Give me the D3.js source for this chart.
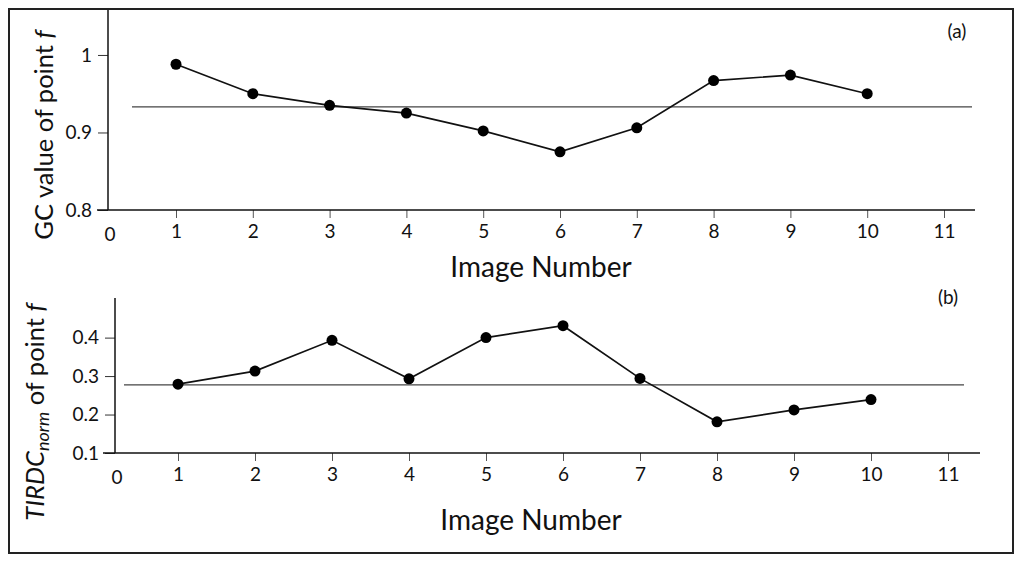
<!DOCTYPE html>
<html>
<head>
<meta charset="utf-8">
<script src="https://cdnjs.cloudflare.com/ajax/libs/d3/7.8.5/d3.min.js"></script>
<style>
  body { margin: 0; background: #fff; }
  text { font-family: Lato, "Open Sans", sans-serif; fill: #111; }
</style>
</head>
<body>
<script>
// Data
let imageNumbers = [1, 2, 3, 4, 5, 6, 7, 8, 9, 10];
let xTicks = [1, 2, 3, 4, 5, 6, 7, 8, 9, 10, 11];

let gcValues = [0.988, 0.950, 0.935, 0.925, 0.902, 0.875, 0.906, 0.967, 0.974, 0.950];
let gcMean = 0.933;
let gcTicks = [0.8, 0.9, 1];

let tirdcValues = [0.279, 0.313, 0.393, 0.293, 0.400, 0.431, 0.294, 0.181, 0.212, 0.239];
let tirdcMean = 0.277;
let tirdcTicks = [0.1, 0.2, 0.3, 0.4];

let width = 1024, height = 562;

let svg = d3.select("body").append("svg")
  .attr("width", width)
  .attr("height", height);

// outer frame
svg.append("rect")
  .attr("x", 9).attr("y", 9)
  .attr("width", 1004).attr("height", 544)
  .attr("fill", "none")
  .attr("stroke", "#222")
  .attr("stroke-width", 2);

let panels = [
  {
    values: gcValues, mean: gcMean, ticks: gcTicks, yDomain: [0.8, 1.058],
    tickFormat: d => d === 1 ? "1" : d3.format(".1f")(d),
    axisX: 108, axisY: 210, top: 10, axisEnd: 975, axisStart: 97,
    x1: 176, x11: 944, meanFrom: 132, meanTo: 972,
    tag: "(a)", tagX: 957, tagY: 38,
    titleY: 277, titleX: 541,
    yLabelX: 53, yLabelY: 135
  },
  {
    values: tirdcValues, mean: tirdcMean, ticks: tirdcTicks, yDomain: [0.1, 0.503],
    tickFormat: d3.format(".1f"),
    axisX: 115, axisY: 453, top: 298, axisEnd: 980, axisStart: 103,
    x1: 178, x11: 948, meanFrom: 124, meanTo: 964,
    tag: "(b)", tagX: 948, tagY: 304,
    titleY: 530, titleX: 531,
    yLabelX: 44, yLabelY: 412
  }
];

panels.forEach(function(p, i) {
  let x = d3.scaleLinear().domain([1, 11]).range([p.x1, p.x11]);
  let y = d3.scaleLinear().domain(p.yDomain).range([p.axisY, p.top]);

  let g = svg.append("g").attr("class", "panel-" + i);

  // y axis
  let yAxis = d3.axisLeft(y)
    .tickValues(p.ticks)
    .tickFormat(p.tickFormat)
    .tickSize(10)
    .tickPadding(6);
  let ya = g.append("g")
    .attr("transform", "translate(" + p.axisX + ",0)")
    .call(yAxis);
  ya.select(".domain").remove();
  ya.selectAll(".tick line").attr("stroke", "#333");
  ya.selectAll(".tick text").attr("font-size", 19).attr("font-family", "Lato").attr("fill", "#111");
  g.append("line")
    .attr("x1", p.axisX).attr("x2", p.axisX)
    .attr("y1", p.top).attr("y2", p.axisY)
    .attr("stroke", "#111").attr("stroke-width", 1.5);

  // x axis
  let xAxis = d3.axisBottom(x)
    .tickValues(xTicks)
    .tickSize(8)
    .tickPadding(7);
  let xa = g.append("g")
    .attr("transform", "translate(0," + p.axisY + ")")
    .call(xAxis);
  xa.select(".domain").remove();
  xa.selectAll(".tick line").attr("stroke", "#555");
  xa.selectAll(".tick text").attr("font-size", 19).attr("font-family", "Lato").attr("fill", "#111");
  g.append("line")
    .attr("x1", p.axisStart).attr("x2", p.axisEnd)
    .attr("y1", p.axisY).attr("y2", p.axisY)
    .attr("stroke", "#111").attr("stroke-width", 1.5);

  // origin label
  g.append("text")
    .attr("x", p.axisX + 2)
    .attr("y", p.axisY + 31)
    .attr("text-anchor", "middle")
    .attr("font-size", 19)
    .text("0");

  // mean line
  g.append("line")
    .attr("x1", p.meanFrom).attr("x2", p.meanTo)
    .attr("y1", y(p.mean)).attr("y2", y(p.mean))
    .attr("stroke", "#444").attr("stroke-width", 1.2);

  // series
  let line = d3.line()
    .x((d, j) => x(imageNumbers[j]))
    .y(d => y(d));
  g.append("path")
    .datum(p.values)
    .attr("d", line)
    .attr("fill", "none")
    .attr("stroke", "#111")
    .attr("stroke-width", 1.7);

  g.selectAll(".dot")
    .data(p.values)
    .enter().append("circle")
    .attr("class", "dot")
    .attr("cx", (d, j) => x(imageNumbers[j]))
    .attr("cy", d => y(d))
    .attr("r", 5.5)
    .attr("fill", "#000");

  // panel tag
  g.append("text")
    .attr("x", p.tagX).attr("y", p.tagY)
    .attr("text-anchor", "middle")
    .attr("font-size", 19)
    .text(p.tag);

  // x title
  g.append("text")
    .attr("x", p.titleX).attr("y", p.titleY)
    .attr("text-anchor", "middle")
    .attr("font-size", 28)
    .text("Image Number");
});

// y titles
let yt1 = svg.append("text")
  .attr("transform", "translate(" + panels[0].yLabelX + "," + panels[0].yLabelY + ") rotate(-90)")
  .attr("text-anchor", "middle")
  .attr("font-size", 25.5);
yt1.append("tspan").text("GC value of point ");
yt1.append("tspan").attr("font-style", "italic").text("f");

let yt2 = svg.append("text")
  .attr("transform", "translate(" + panels[1].yLabelX + "," + panels[1].yLabelY + ") rotate(-90)")
  .attr("text-anchor", "middle")
  .attr("font-size", 25.5);
yt2.append("tspan").attr("font-style", "italic").text("TIRDC");
yt2.append("tspan").attr("font-style", "italic").attr("font-size", 18).attr("dy", 5).text("norm");
yt2.append("tspan").attr("dy", -5).text(" of point ");
yt2.append("tspan").attr("font-style", "italic").text("f");
</script>
</body>
</html>
